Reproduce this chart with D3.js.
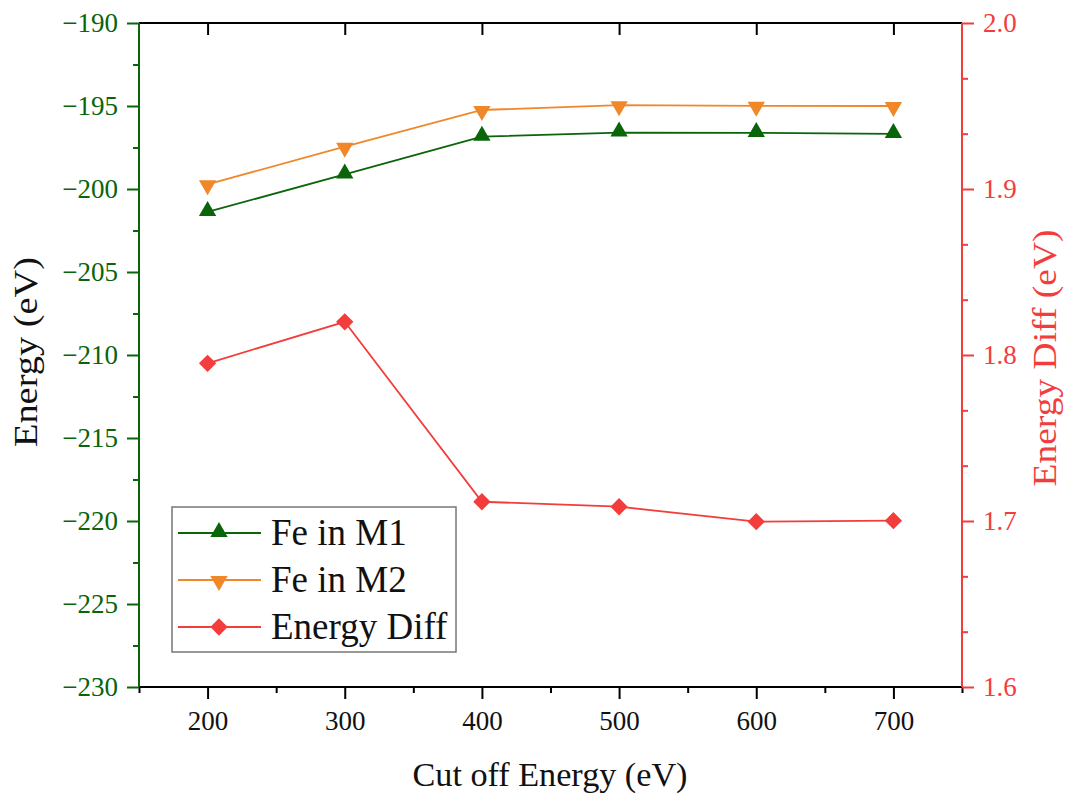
<!DOCTYPE html>
<html><head><meta charset="utf-8">
<script src="https://cdn.jsdelivr.net/npm/d3@7"></script>
<style>body{margin:0;background:#fff}svg{display:block}svg text{font-family:"Liberation Serif","Times New Roman",serif !important}</style>
</head><body>
<svg id="c" width="1069" height="793"></svg>
<script>
const cutoff = [200, 300, 400, 500, 600, 700];
const feM1 = [-201.38, -199.12, -196.85, -196.6, -196.62, -196.68];
const feM2 = [-199.72, -197.45, -195.24, -194.95, -194.99, -195.0];
const energyDiff = [1.795, 1.82, 1.7116, 1.7086, 1.6996, 1.7002];
const xTicks = [200, 300, 400, 500, 600, 700];
const yLeftTicks = [-190, -195, -200, -205, -210, -215, -220, -225, -230];
const yRightTicks = [1.6, 1.7, 1.8, 1.9, 2.0];
const seriesNames = ["Fe in M1", "Fe in M2", "Energy Diff"];

const GREEN = "#0a640a", ORANGE = "#f0882a", RED = "#f33c3c";
const SERIF = "'Liberation Serif', 'Times New Roman', serif";
const L = 139, R = 962, T = 23, B = 687;
const svg = d3.select("#c");
const x = d3.scaleLinear().domain([150, 750]).range([L, R]);
const yL = d3.scaleLinear().domain([-230, -190]).range([B, T]);
const yR = d3.scaleLinear().domain([1.6, 2.0]).range([B, T]);
const fmtMinus = d => d3.format("")(d).replace("-", "\u2212");
const styleText = (g, color) => g.selectAll("text").attr("fill", color)
  .style("font-size", "27px").style("font-family", SERIF);

// top axis
svg.append("g").attr("transform", `translate(0,${T})`)
  .call(d3.axisTop(x).tickValues(xTicks).tickSize(-12).tickFormat(""))
  .call(g => g.selectAll("path,line").attr("stroke", "#000").attr("stroke-width", 2))
  .call(g => g.select(".domain").attr("d", `M${L},0H${R}`));

// bottom axis
const minorX = d3.range(150, 751, 100);
svg.append("g").attr("transform", `translate(0,${B})`)
  .call(d3.axisBottom(x).tickValues(minorX).tickSize(6).tickFormat(""))
  .call(g => g.select(".domain").remove())
  .call(g => g.selectAll("line").attr("stroke", "#000").attr("stroke-width", 2));
svg.append("g").attr("transform", `translate(0,${B})`)
  .call(d3.axisBottom(x).tickValues(xTicks).tickSize(12).tickPadding(12).tickFormat(d3.format("")))
  .call(g => g.select(".domain").attr("d", `M${L},0H${R}`))
  .call(g => g.selectAll("path,line").attr("stroke", "#000").attr("stroke-width", 2))
  .call(g => styleText(g, "#111"));

// left axis
const minorL = d3.range(-227.5, -190, 5);
svg.append("g").attr("transform", `translate(${L},0)`)
  .call(d3.axisLeft(yL).tickValues(minorL).tickSize(6).tickFormat(""))
  .call(g => g.select(".domain").remove())
  .call(g => g.selectAll("line").attr("stroke", GREEN).attr("stroke-width", 2));
svg.append("g").attr("transform", `translate(${L},0)`)
  .call(d3.axisLeft(yL).tickValues(yLeftTicks).tickSize(12).tickPadding(9).tickFormat(fmtMinus))
  .call(g => g.select(".domain").attr("d", `M0,${B}V${T}`))
  .call(g => g.selectAll("path,line").attr("stroke", GREEN).attr("stroke-width", 2))
  .call(g => styleText(g, GREEN));

// right axis
const minorR = [];
for (let i = 0; i < 4; i++) { const b = 1.6 + i * 0.1; minorR.push(b + 0.1 / 3, b + 0.2 / 3); }
svg.append("g").attr("transform", `translate(${R},0)`)
  .call(d3.axisRight(yR).tickValues(minorR).tickSize(6).tickFormat(""))
  .call(g => g.select(".domain").remove())
  .call(g => g.selectAll("line").attr("stroke", RED).attr("stroke-width", 2));
svg.append("g").attr("transform", `translate(${R},0)`)
  .call(d3.axisRight(yR).tickValues(yRightTicks).tickSize(12).tickPadding(9).tickFormat(d3.format(".1f")))
  .call(g => g.select(".domain").attr("d", `M0,${B}V${T}`))
  .call(g => g.selectAll("path,line").attr("stroke", RED).attr("stroke-width", 2))
  .call(g => styleText(g, RED));

// axis titles
svg.append("text").attr("x", 550).attr("y", 786).attr("text-anchor", "middle")
  .style("font-size", "33px").attr("fill", "#111")
  .attr("textLength", 275).attr("lengthAdjust", "spacingAndGlyphs").text("Cut off Energy (eV)");
svg.append("text").attr("transform", "translate(37,352) rotate(-90)").attr("text-anchor", "middle")
  .style("font-size", "34px").attr("fill", "#111")
  .attr("textLength", 190).attr("lengthAdjust", "spacingAndGlyphs").text("Energy (eV)");
svg.append("text").attr("transform", "translate(1056,358) rotate(-90)").attr("text-anchor", "middle")
  .style("font-size", "34px").attr("fill", RED)
  .attr("textLength", 257).attr("lengthAdjust", "spacingAndGlyphs").text("Energy Diff (eV)");

// series
const triUp = d3.symbol().type(d3.symbolTriangle).size(130);
const diamond = d3.symbol().type(d3.symbolSquare).size(150);
function drawLine(vals, yS, color) {
  svg.append("path").datum(vals)
    .attr("d", d3.line().x((d, i) => x(cutoff[i])).y(d => yS(d)))
    .attr("fill", "none").attr("stroke", color).attr("stroke-width", 1.8);
}
drawLine(feM1, yL, GREEN);
drawLine(feM2, yL, ORANGE);
drawLine(energyDiff, yR, RED);
svg.append("g").selectAll("path").data(feM1).join("path")
  .attr("d", triUp).attr("fill", GREEN)
  .attr("transform", (d, i) => `translate(${x(cutoff[i])},${yL(d) - 1})`);
svg.append("g").selectAll("path").data(feM2).join("path")
  .attr("d", triUp).attr("fill", ORANGE)
  .attr("transform", (d, i) => `translate(${x(cutoff[i])},${yL(d) + 1}) rotate(180)`);
svg.append("g").selectAll("path").data(energyDiff).join("path")
  .attr("d", diamond).attr("fill", RED)
  .attr("transform", (d, i) => `translate(${x(cutoff[i])},${yR(d)}) rotate(45)`);

// legend
const lg = svg.append("g");
lg.append("rect").attr("x", 172).attr("y", 507).attr("width", 284).attr("height", 145)
  .attr("fill", "#fff").attr("stroke", "#777").attr("stroke-width", 1.5);
const legendColors = [GREEN, ORANGE, RED];
const rowsY = [533, 580, 627];
seriesNames.forEach((name, i) => {
  const yy = rowsY[i];
  lg.append("line").attr("x1", 178).attr("x2", 261).attr("y1", yy).attr("y2", yy)
    .attr("stroke", legendColors[i]).attr("stroke-width", 1.8);
  let sym, tf;
  if (i === 0) { sym = triUp; tf = `translate(219,${yy - 1})`; }
  else if (i === 1) { sym = triUp; tf = `translate(219,${yy + 1}) rotate(180)`; }
  else { sym = diamond; tf = `translate(219,${yy}) rotate(45)`; }
  lg.append("path").attr("d", sym).attr("fill", legendColors[i]).attr("transform", tf);
  lg.append("text").attr("x", 271).attr("y", yy + 12).style("font-size", "37px").attr("fill", "#111").text(name);
});
</script>
</body></html>
